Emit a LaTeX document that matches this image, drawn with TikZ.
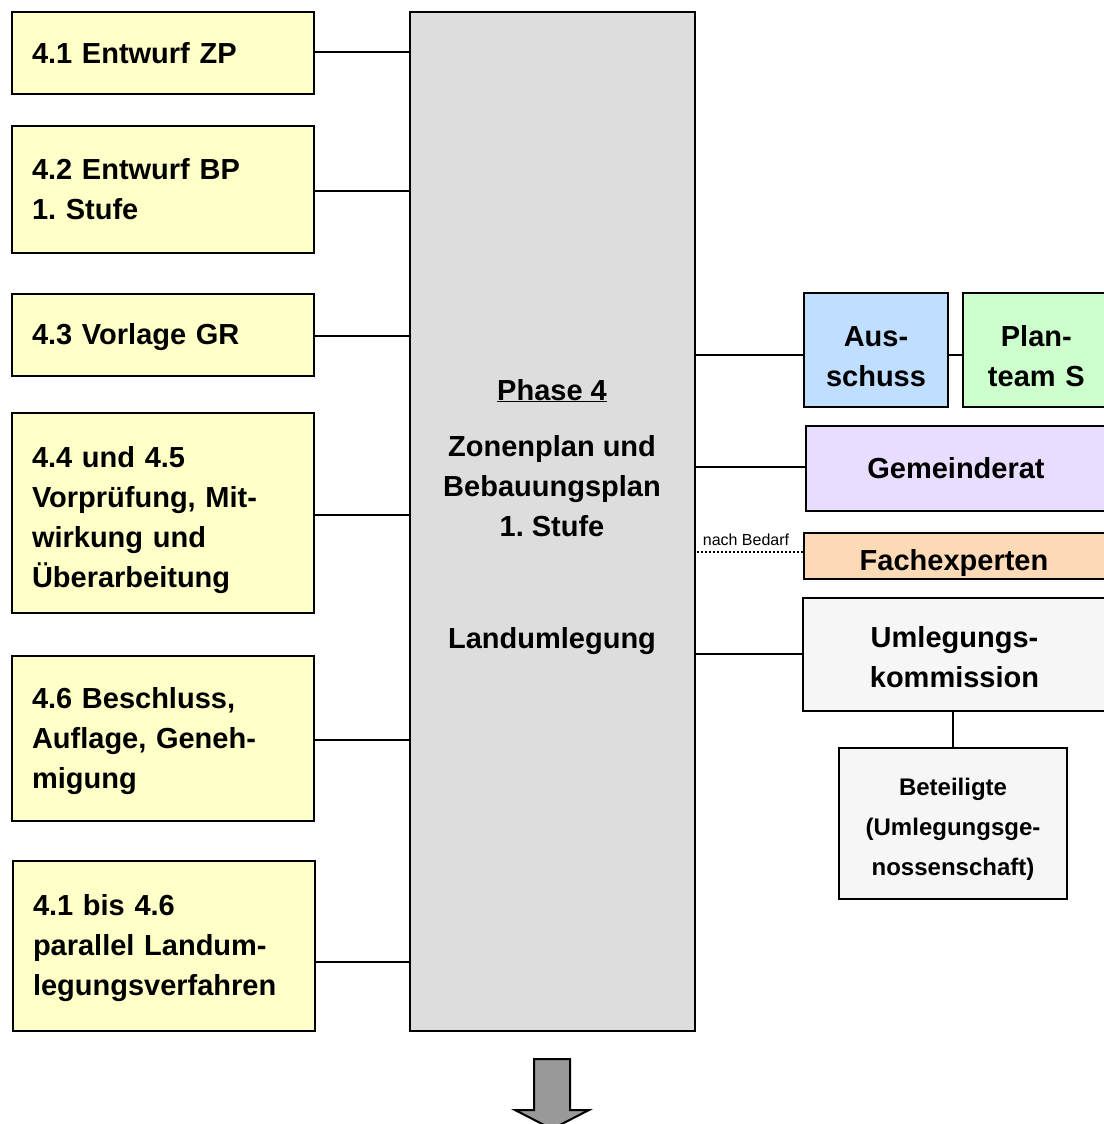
\documentclass[tikz,border=0pt]{standalone}
\usepackage{fontspec}
\setmainfont{Liberation Sans}
\frenchspacing
\definecolor{ybox}{HTML}{FFFFC8}
\definecolor{mainc}{HTML}{DDDDDD}
\definecolor{ausc}{HTML}{C0DEFF}
\definecolor{planc}{HTML}{CCFFCC}
\definecolor{gemc}{HTML}{E8DDFF}
\definecolor{fachc}{HTML}{FCDAB6}
\definecolor{umlc}{HTML}{F6F6F6}
\definecolor{arrc}{HTML}{999999}
\tikzset{
  lbox/.style={draw=black, line width=2pt, fill=ybox, anchor=north west,
    minimum width=302pt, text width=262pt, align=left, inner xsep=19pt,
    font=\fontsize{29}{40}\selectfont\bfseries},
  rbox/.style={draw=black, line width=2pt, anchor=north west, align=center,
    font=\fontsize{29}{40}\selectfont\bfseries},
  conn/.style={draw=black, line width=2pt},
  maintxt/.style={anchor=base, font=\fontsize{29}{40}\selectfont\bfseries}
}
\begin{document}
\begin{tikzpicture}[x=1pt,y=-1pt]
\useasboundingbox (0,0) rectangle (1103,1124);
% main box
\node[draw=black, line width=2pt, fill=mainc, anchor=north west, minimum width=285pt, minimum height=1019pt] (main) at (409,11) {};
\node[maintxt] (t1) at (552,400) {\underline{Phase 4}};
\node[maintxt] (t2) at (552,456) {Zonenplan und};
\node[maintxt] (t3) at (552,496) {Bebauungsplan};
\node[maintxt] (t4) at (552,536) {1. Stufe};
\node[maintxt] (t5) at (552,648) {Landumlegung};
% left boxes
\node[lbox, minimum height=82pt] (b1) at (11,11) {4.1 Entwurf ZP};
\node[lbox, minimum height=127pt] (b2) at (11,125) {4.2 Entwurf BP\\1. Stufe};
\node[lbox, minimum height=82pt] (b3) at (11,293) {\rule{0pt}{25pt}4.3 Vorlage GR};
\node[lbox, minimum height=200pt] (b4) at (11,412) {\rule{0pt}{35pt}4.4 und 4.5\\Vorprüfung, Mit-\\wirkung und\\Überarbeitung};
\node[lbox, minimum height=165pt] (b5) at (11,655) {\rule{0pt}{27pt}4.6 Beschluss,\\Auflage, Geneh-\\migung};
\node[lbox, minimum height=170pt] (b6) at (12,860) {\rule{0pt}{25pt}4.1 bis 4.6\\parallel Landum-\\legungsverfahren};
\draw[conn] (b1.east |- 0,52) -- (main.west |- 0,52);
\draw[conn] (b2.east |- 0,191) -- (main.west |- 0,191);
\draw[conn] (b3.east |- 0,336) -- (main.west |- 0,336);
\draw[conn] (b4.east |- 0,515) -- (main.west |- 0,515);
\draw[conn] (b5.east |- 0,740) -- (main.west |- 0,740);
\draw[conn] (b6.east |- 0,962) -- (main.west |- 0,962);
% right boxes
\node[rbox, fill=ausc, minimum width=144pt, minimum height=114pt] (aus) at (803,292) {\rule{0pt}{33pt}Aus-\\schuss};
\node[rbox, fill=planc, minimum width=146pt, minimum height=114pt, text width=140pt] (plan) at (962,292) {\rule{0pt}{33pt}Plan-\\team S};
\node[rbox, fill=gemc, minimum width=300pt, minimum height=85pt] (gem) at (805,425) {Gemeinderat};
\node[rbox, fill=fachc, minimum width=302pt, minimum height=46pt] (fach) at (803,532) {};
\node[anchor=base, inner sep=0pt, font=\fontsize{29}{40}\selectfont\bfseries] (fachtxt) at (954,570) {Fachexperten};
\node[rbox, fill=umlc, minimum width=303pt, minimum height=113pt] (uml) at (802,597) {\rule{0pt}{27pt}Umlegungs-\\kommission};
\node[rbox, fill=umlc, minimum width=228pt, minimum height=151pt, font=\fontsize{24}{40}\selectfont\bfseries] (bet) at (838,747) {\rule{0pt}{28pt}Beteiligte\\(Umlegungsge-\\nossenschaft)};
\draw[conn] (main.east |- 0,355) -- (aus.west |- 0,355);
\draw[conn] (aus.east |- 0,355) -- (plan.west |- 0,355);
\draw[conn] (main.east |- 0,467) -- (gem.west |- 0,467);
\draw[black, line width=2pt, dotted] (697,552) -- (fach.west |- 0,552);
\node[anchor=base, font=\fontsize{16}{18}\selectfont, inner sep=0pt] (nb) at (746,545) {nach Bedarf};
\draw[conn] (main.east |- 0,654) -- (uml.west |- 0,654);
\draw[conn] (uml.south -| 953,0) -- (bet.north -| 953,0);
% arrow
\draw[line width=2pt, fill=arrc, line join=miter] (534,1059) -- (570,1059) -- (570,1110) -- (589,1110) -- (552,1129) -- (515,1110) -- (534,1110) -- cycle;
\end{tikzpicture}
\end{document}
